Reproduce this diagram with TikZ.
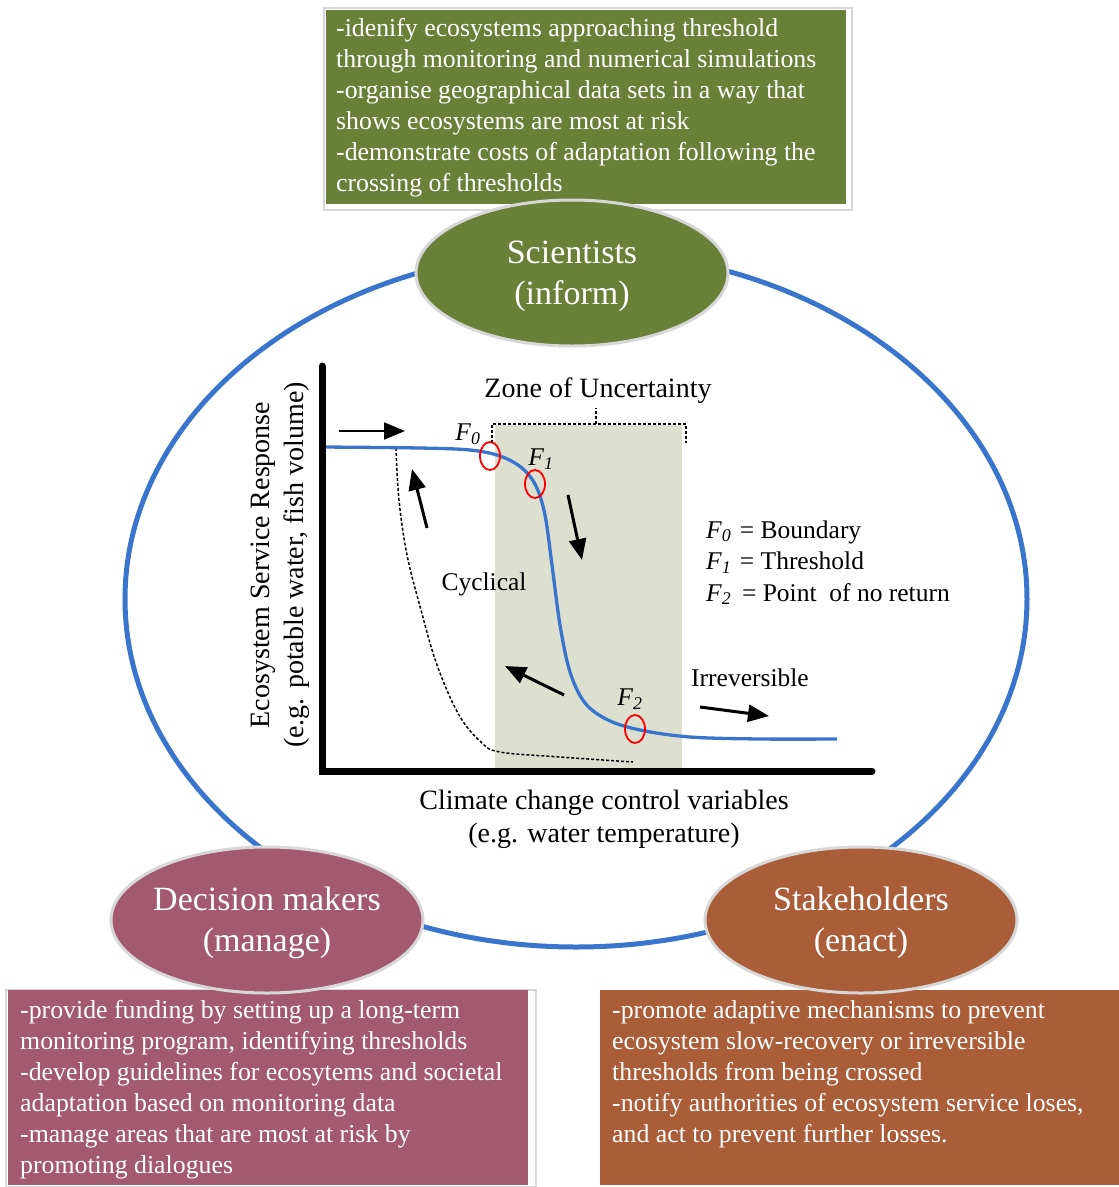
\documentclass[tikz,border=0pt]{standalone}
\usepackage{fontspec}
\setmainfont{Liberation Serif}
\usetikzlibrary{shapes.geometric,arrows.meta}
\definecolor{sgreen}{RGB}{106,127,55}
\definecolor{spink}{RGB}{163,89,111}
\definecolor{sbrown}{RGB}{169,93,56}
\definecolor{sblue}{RGB}{58,117,205}
\definecolor{zone}{RGB}{221,224,206}
\definecolor{frame}{RGB}{215,215,215}
\newcommand\FF[1]{\textit{F}\textsubscript{\textit{#1}}}
\tikzset{
  boxtext/.style={anchor=north west, inner sep=0pt, align=left, text=white,
    font=\fontsize{25.8}{31}\selectfont},
  role/.style={ellipse, draw=frame, line width=3pt, minimum width=312pt,
    minimum height=146pt, inner sep=0pt},
  roletext/.style={inner sep=0pt, text=white, align=center,
    font=\fontsize{34}{41}\selectfont},
  lab/.style={inner sep=0pt, font=\fontsize{28}{33}\selectfont},
  slab/.style={inner sep=0pt, font=\fontsize{25.5}{31}\selectfont},
  bigarrow/.style={line width=3pt, -{Triangle[length=21pt,width=17pt]}},
  redc/.style={draw=red, line width=1.8pt},
}
\begin{document}
\begin{tikzpicture}[x=1pt,y=-1pt]
\useasboundingbox (0,0) rectangle (1119,1187);
% big blue cycle
\draw[sblue, line width=5pt] (576,599) ellipse [x radius=451pt, y radius=348pt];
% boxes
\draw[frame, line width=2.5pt] (324,8) rectangle (852,210);
\fill[sgreen] (326,10) rectangle (846,204);
\node[boxtext] (stext) at (336,18) {-idenify ecosystems approaching threshold\\
through monitoring and numerical simulations\\
-organise geographical data sets in a way that\\
shows ecosystems are most at risk\\
-demonstrate costs of adaptation following the\\
crossing of thresholds};
\draw[frame, line width=2.5pt] (6,990) rectangle (536,1187);
\fill[spink] (8,990) rectangle (528,1185);
\node[boxtext] (dtext) at (20,1000) {-provide funding by setting up a long-term\\
monitoring program, identifying thresholds\\
-develop guidelines for ecosytems and societal\\
adaptation based on monitoring data\\
-manage areas that are most at risk by\\
promoting dialogues};
\fill[sbrown] (600,990) rectangle (1119,1185);
\node[boxtext] (ktext) at (612,1000) {-promote adaptive mechanisms to prevent\\
ecosystem slow-recovery or irreversible\\
thresholds from being crossed\\
-notify authorities of ecosystem service loses,\\
and act to prevent further losses.};
% role ellipses
\node[role, fill=sgreen] (sci) at (572,273) {};
\node[roletext] (scit) at (572,276) {Scientists\\(inform)};
\node[role, fill=spink] (dec) at (267,920) {};
\node[roletext] (dect) at (267,923) {Decision makers\\(manage)};
\node[role, fill=sbrown] (stk) at (861,920) {};
\node[roletext] (stkt) at (861,923) {Stakeholders\\(enact)};
% chart
\fill[zone] (495,425) rectangle (682,768);
\draw[line width=1.3pt, dash pattern=on 3pt off 2pt] (492,443) -- (492,424) -- (686,424) -- (686,443);
\draw[line width=1.3pt, dash pattern=on 3pt off 2pt] (596,424) -- (596,408);
\node[lab] (zonel) at (598,391) {Zone of Uncertainty};
\draw[line width=1.5pt, dash pattern=on 3pt off 2pt] plot[smooth, tension=0.6] coordinates
  {(396,448) (399,500) (407,555) (421,610) (437,665) (459,715) (481,742) (500,752) (560,757) (633,762)};
\draw[sblue, line width=3.3pt] plot[smooth, tension=0.55] coordinates
  {(323,447) (420,448) (470,450) (500,456) (522,468) (536,486) (545,515) (552,565) (560,625) (570,672) (585,703) (608,720) (640,730) (690,737) (760,739) (837,739)};
\draw[line width=7pt, line cap=round] (322,366) -- (322,771) -- (872,771);
\draw[redc] (490,456) ellipse [x radius=10pt, y radius=14pt];
\draw[redc] (535,484) ellipse [x radius=10pt, y radius=14pt];
\draw[redc] (635,729) ellipse [x radius=10pt, y radius=14pt];
\node[slab] (f0) at (468,434) {\FF{0}};
\node[slab] (f1) at (541,459) {\FF{1}};
\node[slab] (f2) at (630,699) {\FF{2}};
% arrows
\draw[line width=2.2pt, -{Triangle[length=21pt,width=17pt]}] (339,431) -- (405,431);
\draw[bigarrow] (427,528) -- (412,469);
\draw[bigarrow] (568,495) -- (582,560);
\draw[bigarrow] (564,695) -- (505,666);
\draw[bigarrow] (700,707) -- (769,716);
\node[slab] (cyc) at (484,584) {Cyclical};
\node[slab] (irr) at (750,678) {Irreversible};
\node[slab, anchor=west] (l0) at (706,532) {\FF{0}\,\,= Boundary};
\node[slab, anchor=west] (l1) at (706,563) {\FF{1}\,\,= Threshold};
\node[slab, anchor=west] (l2) at (706,594) {\FF{2}\ \,= Point\ \ of no return};
\node[lab, rotate=90] (yl1) at (263,565) {Ecosystem Service Response};
\node[lab, rotate=90] (yl2) at (297,565) {(e.g. potable water, fish volume)};
\node[lab] (xl1) at (604,803) {Climate change control variables};
\node[lab] (xl2) at (604,836) {(e.g. water temperature)};
\end{tikzpicture}
\end{document}
